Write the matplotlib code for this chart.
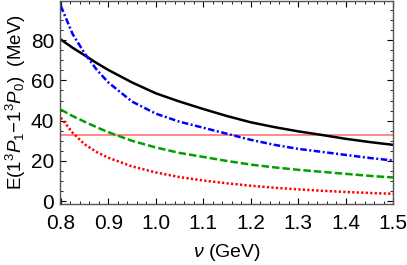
import numpy as np
import matplotlib.pyplot as plt
from matplotlib.ticker import MultipleLocator

plt.rcParams['font.family'] = ['Liberation Sans', 'DejaVu Sans']
plt.rcParams['mathtext.fontset'] = 'custom'
plt.rcParams['mathtext.rm'] = 'Liberation Sans'
plt.rcParams['mathtext.it'] = 'Liberation Sans:italic'

# Values
nu = [0.8, 0.825, 0.85, 0.875, 0.9, 0.95, 1.0, 1.05, 1.1, 1.15, 1.2, 1.25, 1.3, 1.35, 1.4, 1.45, 1.5]
black = [80.3, 76.2, 72.5, 68.7, 65.2, 59.0, 53.6, 49.5, 45.8, 42.3, 39.2, 36.8, 34.7, 32.9, 31.0, 29.4, 28.0]
blue = [97.0, 83.0, 73.5, 65.5, 59.0, 49.5, 43.5, 39.5, 36.5, 33.5, 30.5, 28.0, 26.0, 24.5, 23.0, 21.5, 20.2]
green = [45.5, 42.3, 39.5, 36.8, 34.3, 30.0, 26.7, 24.0, 22.0, 20.0, 18.2, 16.8, 15.6, 14.6, 13.6, 12.6, 11.8]
red = [41.5, 34.0, 28.3, 24.5, 21.6, 17.3, 14.3, 12.0, 10.3, 8.9, 7.7, 6.7, 5.9, 5.2, 4.6, 4.1, 3.7]
exp_value = 33.1

fig = plt.figure(figsize=(4.07, 2.65), dpi=100)
ax = fig.add_axes([0.147, 0.230, 0.819, 0.766])

ax.axhline(exp_value, color='#ff8080', lw=1.3)
ax.plot(nu, black, color='black', lw=1.8)
ax.plot(nu, blue, color='#0000ff', lw=1.8, linestyle=(0, (2.6, 1.0, 0.8, 1.0)))
ax.plot(nu, green, color='#00a000', lw=1.8, linestyle=(0, (3.0, 1.2)))
ax.plot(nu, red, color='#ff0000', lw=1.8, linestyle=(0, (0.9, 0.9)))

ax.set_xlim(0.798, 1.5)
ax.set_ylim(-1.4, 99.4)
ax.xaxis.set_major_locator(MultipleLocator(0.1))
ax.xaxis.set_minor_locator(MultipleLocator(0.02))
ax.yaxis.set_major_locator(MultipleLocator(20))
ax.yaxis.set_minor_locator(MultipleLocator(5))
ax.tick_params(which='both', direction='in', top=True, right=True, labelsize=15)
ax.tick_params(axis='x', pad=7)
ax.tick_params(axis='y', pad=4)
ax.tick_params(which='major', length=4)
ax.tick_params(which='minor', length=2)
for s in ax.spines.values():
    s.set_linewidth(1.0)
    s.set_color('#555555')

ax.set_xlabel(r'$\nu$ (GeV)', fontsize=14, labelpad=7)
ax.set_ylabel(r'E(1$^3P_1$$-$1$^3P_0$)  (MeV)', fontsize=13.5, labelpad=2)

fig.savefig('out.png', dpi=100)
